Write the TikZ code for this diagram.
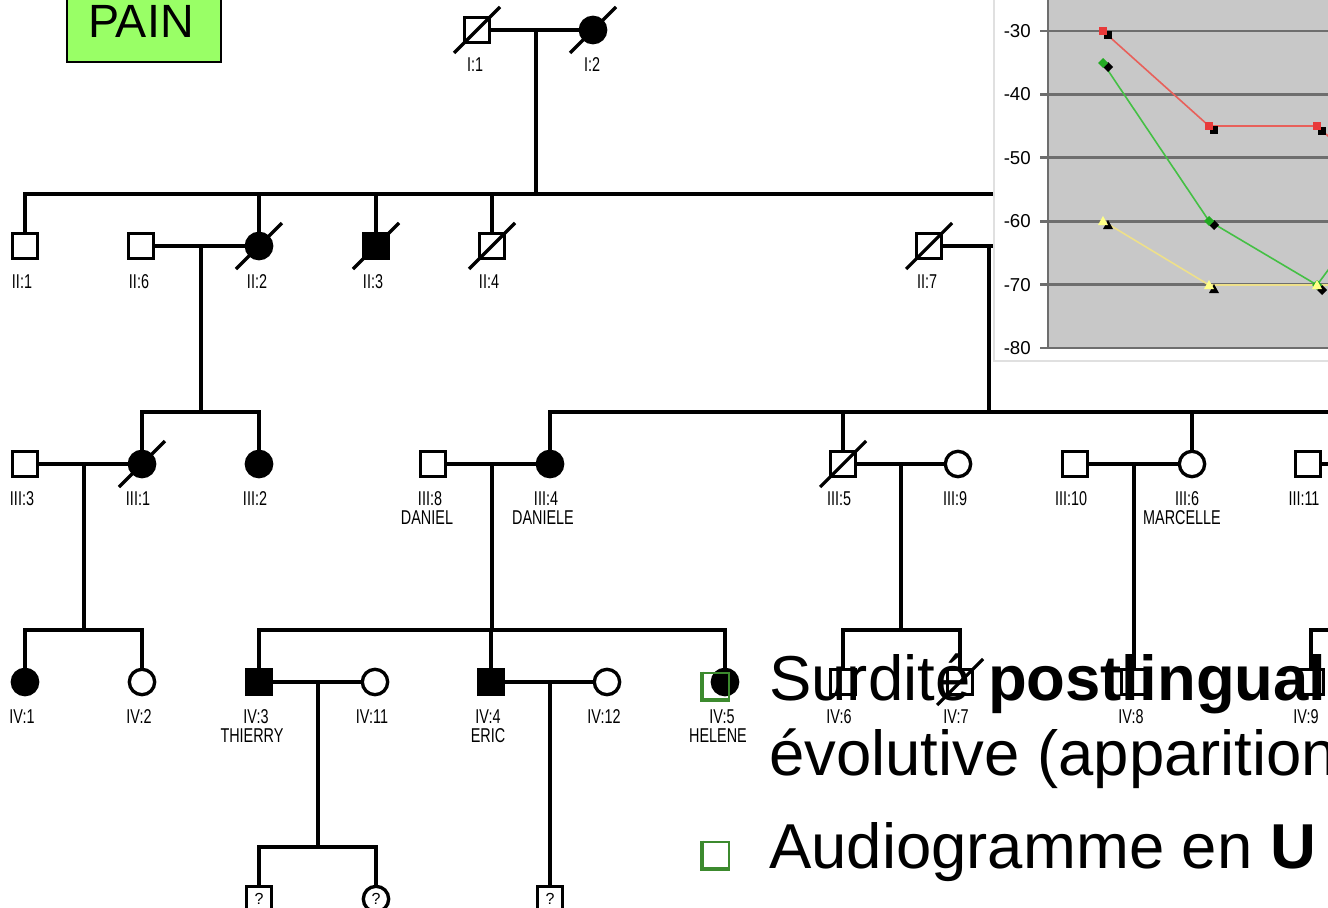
\documentclass[tikz,border=0pt]{standalone}
\usepackage{fontspec}
\setmainfont{Liberation Sans}
\usetikzlibrary{calc}
\definecolor{paingreen}{HTML}{99FF66}
\definecolor{chartgray}{HTML}{C8C8C8}
\definecolor{gridc}{HTML}{6E6E6E}
\definecolor{redline}{HTML}{E8605A}
\definecolor{redmark}{HTML}{E83A3A}
\definecolor{greenline}{HTML}{44C044}
\definecolor{greenmark}{HTML}{22AA22}
\definecolor{yelline}{HTML}{EEE08A}
\definecolor{yelmark}{HTML}{FFFF88}
\definecolor{bulgreen}{HTML}{3C8A2E}
\newcommand{\pl}[1]{\scalebox{0.72}[1]{#1}}
\newcommand{\deceased}[1]{\draw[sl] ($(#1)+(-23,23)$) -- ($(#1)+(23,-23)$);}
\begin{document}
\begin{tikzpicture}[x=0.75pt,y=-0.75pt,
  ln/.style={line width=2.3pt},
  sl/.style={line width=2.4pt},
  msq/.style={rectangle, draw, line width=2.5pt, minimum width=18.5pt, minimum height=18.5pt, inner sep=0pt},
  fsq/.style={msq, fill=black},
  oci/.style={circle, draw, line width=2.5pt, minimum size=19pt, inner sep=0pt},
  fci/.style={oci, fill=black},
  lbl/.style={anchor=base, inner sep=0pt, font=\fontsize{15}{18}\selectfont},
  qm/.style={font=\fontsize{12}{14}\selectfont},
  tick/.style={anchor=east, inner sep=0pt, font=\fontsize{14}{16}\selectfont},
  big/.style={anchor=base west, inner sep=0pt, font=\fontsize{47.6}{57}\selectfont},
  bul/.style={rectangle, draw=bulgreen, line width=1.4pt, minimum width=19.5pt, minimum height=20pt, inner sep=0pt},
  bulthick/.style={draw=bulgreen, line width=3pt}
]
\useasboundingbox (0,0) rectangle (1328,907);
\fill[white] (0,0) rectangle (1328,907);

% PAIN box
\node[rectangle, draw, line width=1.6pt, fill=paingreen, minimum width=115.5pt, minimum height=52pt, inner sep=0pt] (pain) at (144,27) {};
\node[anchor=base, inner sep=0pt, font=\fontsize{35}{40}\selectfont] (paintxt) at (141,37) {PAIN};

% ---------- Generation I
\node[msq] (i1) at (477,30) {};
\node[fci] (i2) at (593,30) {};
\deceased{i1}\deceased{i2}
\draw[ln] (i1) -- (i2);
\coordinate (m1) at (536,30);
\coordinate (s2) at (536,194);
\coordinate (s2r) at (994,194);
\draw[ln] (m1) -- (s2);
\node[lbl] (li1) at (475,71) {\pl{I:1}};
\node[lbl] (li2) at (592,71) {\pl{I:2}};

% ---------- Generation II
\node[msq] (ii1) at (25,246) {};
\node[msq] (ii6) at (141,246) {};
\node[fci] (ii2) at (259,246) {};
\node[fsq] (ii3) at (376,246) {};
\node[msq] (ii4) at (492,246) {};
\node[msq] (ii7) at (929,246) {};
\deceased{ii2}\deceased{ii3}\deceased{ii4}\deceased{ii7}
\draw[ln] (ii1) -- (ii1 |- s2) -- (s2r);
\draw[ln] (ii2) -- (ii2 |- s2);
\draw[ln] (ii3) -- (ii3 |- s2);
\draw[ln] (ii4) -- (ii4 |- s2);
\draw[ln] (ii6) -- (ii2);
\coordinate (ii7e) at (994,246);
\draw[ln] (ii7) -- (ii7e);
\coordinate (m2) at (201,246);
\coordinate (m3) at (989,246);
\coordinate (s3a) at (201,412);
\coordinate (s3b) at (989,412);
\coordinate (s3r) at (1328,412);
\draw[ln] (m2) -- (s3a);
\draw[ln] (m3) -- (s3b);
\node[lbl] (lii1) at (22,288) {\pl{II:1}};
\node[lbl] (lii6) at (139,288) {\pl{II:6}};
\node[lbl] (lii2) at (257,288) {\pl{II:2}};
\node[lbl] (lii3) at (373,288) {\pl{II:3}};
\node[lbl] (lii4) at (489,288) {\pl{II:4}};
\node[lbl] (lii7) at (927,288) {\pl{II:7}};

% ---------- Generation III
\node[msq] (iii3) at (25,464) {};
\node[fci] (iii1) at (142,464) {};
\node[fci] (iii2) at (259,464) {};
\node[msq] (iii8) at (433,464) {};
\node[fci] (iii4) at (550,464) {};
\node[msq] (iii5) at (843,464) {};
\node[oci] (iii9) at (958,464) {};
\node[msq] (iii10) at (1075,464) {};
\node[oci] (iii6) at (1192,464) {};
\node[msq] (iii11) at (1308,464) {};
\deceased{iii1}\deceased{iii5}
\draw[ln] (iii1) -- (iii1 |- s3a) -- (iii2 |- s3a) -- (iii2);
\draw[ln] (iii4) -- (iii4 |- s3b) -- (s3r);
\draw[ln] (iii5) -- (iii5 |- s3b);
\draw[ln] (iii6) -- (iii6 |- s3b);
\draw[ln] (iii3) -- (iii1);
\draw[ln] (iii8) -- (iii4);
\draw[ln] (iii5) -- (iii9);
\draw[ln] (iii10) -- (iii6);
\coordinate (iii11e) at (1328,464);
\draw[ln] (iii11) -- (iii11e);
\coordinate (m4) at (84,464);
\coordinate (m5) at (492,464);
\coordinate (m6) at (901,464);
\coordinate (m7) at (1134,464);
\coordinate (s4a) at (84,630);
\coordinate (s4b) at (492,630);
\coordinate (s4c) at (901,630);
\coordinate (s4e) at (1328,630);
\draw[ln] (m4) -- (s4a);
\draw[ln] (m5) -- (s4b);
\draw[ln] (m6) -- (s4c);
\node[lbl] (liii3) at (22,505) {\pl{III:3}};
\node[lbl] (liii1) at (138,505) {\pl{III:1}};
\node[lbl] (liii2) at (255,505) {\pl{III:2}};
\node[lbl] (liii8) at (430,505) {\pl{III:8}};
\node[lbl] (liii4) at (546,505) {\pl{III:4}};
\node[lbl] (liii5) at (839,505) {\pl{III:5}};
\node[lbl] (liii9) at (955,505) {\pl{III:9}};
\node[lbl] (liii10) at (1071,505) {\pl{III:10}};
\node[lbl] (liii6) at (1187,505) {\pl{III:6}};
\node[lbl] (liii11) at (1304,505) {\pl{III:11}};
\node[lbl] (ndaniel) at (427,524) {\pl{DANIEL}};
\node[lbl] (ndaniele) at (543,524) {\pl{DANIELE}};
\node[lbl] (nmarcelle) at (1182,524) {\pl{MARCELLE}};

% ---------- Generation IV
\node[fci] (iv1) at (25,682) {};
\node[oci] (iv2) at (142,682) {};
\node[fsq] (iv3) at (259,682) {};
\node[oci] (iv11) at (375,682) {};
\node[fsq] (iv4) at (491,682) {};
\node[oci] (iv12) at (607,682) {};
\node[fci] (iv5) at (725,682) {};
\node[msq] (iv6) at (843,682) {};
\node[msq] (iv7) at (960,682) {};
\node[msq] (iv8) at (1134,682) {};
\node[msq] (iv9) at (1311,682) {};
\deceased{iv7}
\draw[ln] (iv1) -- (iv1 |- s4a) -- (iv2 |- s4a) -- (iv2);
\draw[ln] (iv3) -- (iv3 |- s4b) -- (iv5 |- s4b) -- (iv5);
\draw[ln] (iv4) -- (iv4 |- s4b);
\draw[ln] (iv6) -- (iv6 |- s4c) -- (iv7 |- s4c) -- (iv7);
\draw[ln] (m7) -- (iv8);
\draw[ln] (iv9) -- (iv9 |- s4e) -- (s4e);
\draw[ln] (iv3) -- (iv11);
\draw[ln] (iv4) -- (iv12);
\coordinate (m8) at (318,682);
\coordinate (m9) at (550,682);
\coordinate (s5a) at (318,847);
\draw[ln] (m8) -- (s5a);
\node[lbl] (liv1) at (22,723) {\pl{IV:1}};
\node[lbl] (liv2) at (139,723) {\pl{IV:2}};
\node[lbl] (liv3) at (256,723) {\pl{IV:3}};
\node[lbl] (liv11) at (372,723) {\pl{IV:11}};
\node[lbl] (liv4) at (488,723) {\pl{IV:4}};
\node[lbl] (liv12) at (604,723) {\pl{IV:12}};
\node[lbl] (liv5) at (722,723) {\pl{IV:5}};
\node[lbl] (liv6) at (839,723) {\pl{IV:6}};
\node[lbl] (liv7) at (956,723) {\pl{IV:7}};
\node[lbl] (liv8) at (1131,723) {\pl{IV:8}};
\node[lbl] (liv9) at (1306,723) {\pl{IV:9}};
\node[lbl] (nthierry) at (252,742) {\pl{THIERRY}};
\node[lbl] (neric) at (488,742) {\pl{ERIC}};
\node[lbl] (nhelene) at (718,742) {\pl{HELENE}};

% ---------- Generation V
\node[msq, qm] (v1) at (259,899) {?};
\node[oci, qm] (v2) at (376,899) {?};
\node[msq, qm] (v3) at (550,899) {?};
\draw[ln] (v1) -- (v1 |- s5a) -- (v2 |- s5a) -- (v2);
\draw[ln] (m9) -- (v3);

% ---------- Chart
\fill[white] (994,0) rectangle (1328,361);
\draw[black!12, line width=0.8pt] (994,0) -- (994,361) -- (1328,361);
\fill[chartgray] (1048,0) rectangle (1328,348);
\foreach \yy in {31,94.4,157.8,221.2,284.6}
  \draw[gridc, line width=2pt] (1040,\yy) -- (1328,\yy);
\draw[gridc, line width=2pt] (1048,0) -- (1048,348);
\draw[gridc, line width=2pt] (1040,348) -- (1328,348);
\foreach \v/\yy in {30/31,40/94.4,50/157.8,60/221.2,70/284.6,80/348}
  \node[tick] (t\v) at (1031,\yy) {-\v};
\begin{scope}
\clip (1048,0) rectangle (1328,348);
\draw[redline, line width=1.2pt] (1103,31) -- (1209,126) -- (1317,126) -- (1350,156);
\draw[greenline, line width=1.2pt] (1103,63) -- (1209,221) -- (1317,285) -- (1340,254);
\draw[yelline, line width=1.2pt] (1103,221) -- (1209,285) -- (1317,285) -- (1340,285);
% black markers
\foreach \xx/\yy in {1108/35,1214/130,1322/131}
  \fill[black] (\xx-4,\yy-4) rectangle (\xx+4,\yy+4);
\foreach \xx/\yy in {1108/67,1214/225,1322/290}
  \fill[black] (\xx,\yy-5) -- (\xx+5,\yy) -- (\xx,\yy+5) -- (\xx-5,\yy) -- cycle;
\foreach \xx/\yy in {1108/225,1214/289}
  \fill[black] (\xx,\yy-5) -- (\xx+5,\yy+4) -- (\xx-5,\yy+4) -- cycle;
% coloured markers
\foreach \xx/\yy in {1103/31,1209/126,1317/126}
  \fill[redmark] (\xx-4,\yy-4) rectangle (\xx+4,\yy+4);
\foreach \xx/\yy in {1103/63,1209/221,1317/285}
  \fill[greenmark] (\xx,\yy-5) -- (\xx+5,\yy) -- (\xx,\yy+5) -- (\xx-5,\yy) -- cycle;
\foreach \xx/\yy in {1103/221,1209/285,1317/285}
  \fill[yelmark] (\xx,\yy-5) -- (\xx+5,\yy+4) -- (\xx-5,\yy+4) -- cycle;
\end{scope}

% ---------- Bullets and text
\node[bul] (b1) at (716,686) {};
\draw[bulthick] (b1.north west) -- (b1.south west) -- (b1.south east);
\node[bul] (b2) at (716,855) {};
\draw[bulthick] (b2.north west) -- (b2.south west) -- (b2.south east);
\node[big] (t1) at (769,700) {Surdité \textbf{postlingual}};
\node[big] (t2) at (769,775) {évolutive (apparition};
\node[big] (t3) at (769,868) {Audiogramme en \textbf{U}};
\end{tikzpicture}
\end{document}
